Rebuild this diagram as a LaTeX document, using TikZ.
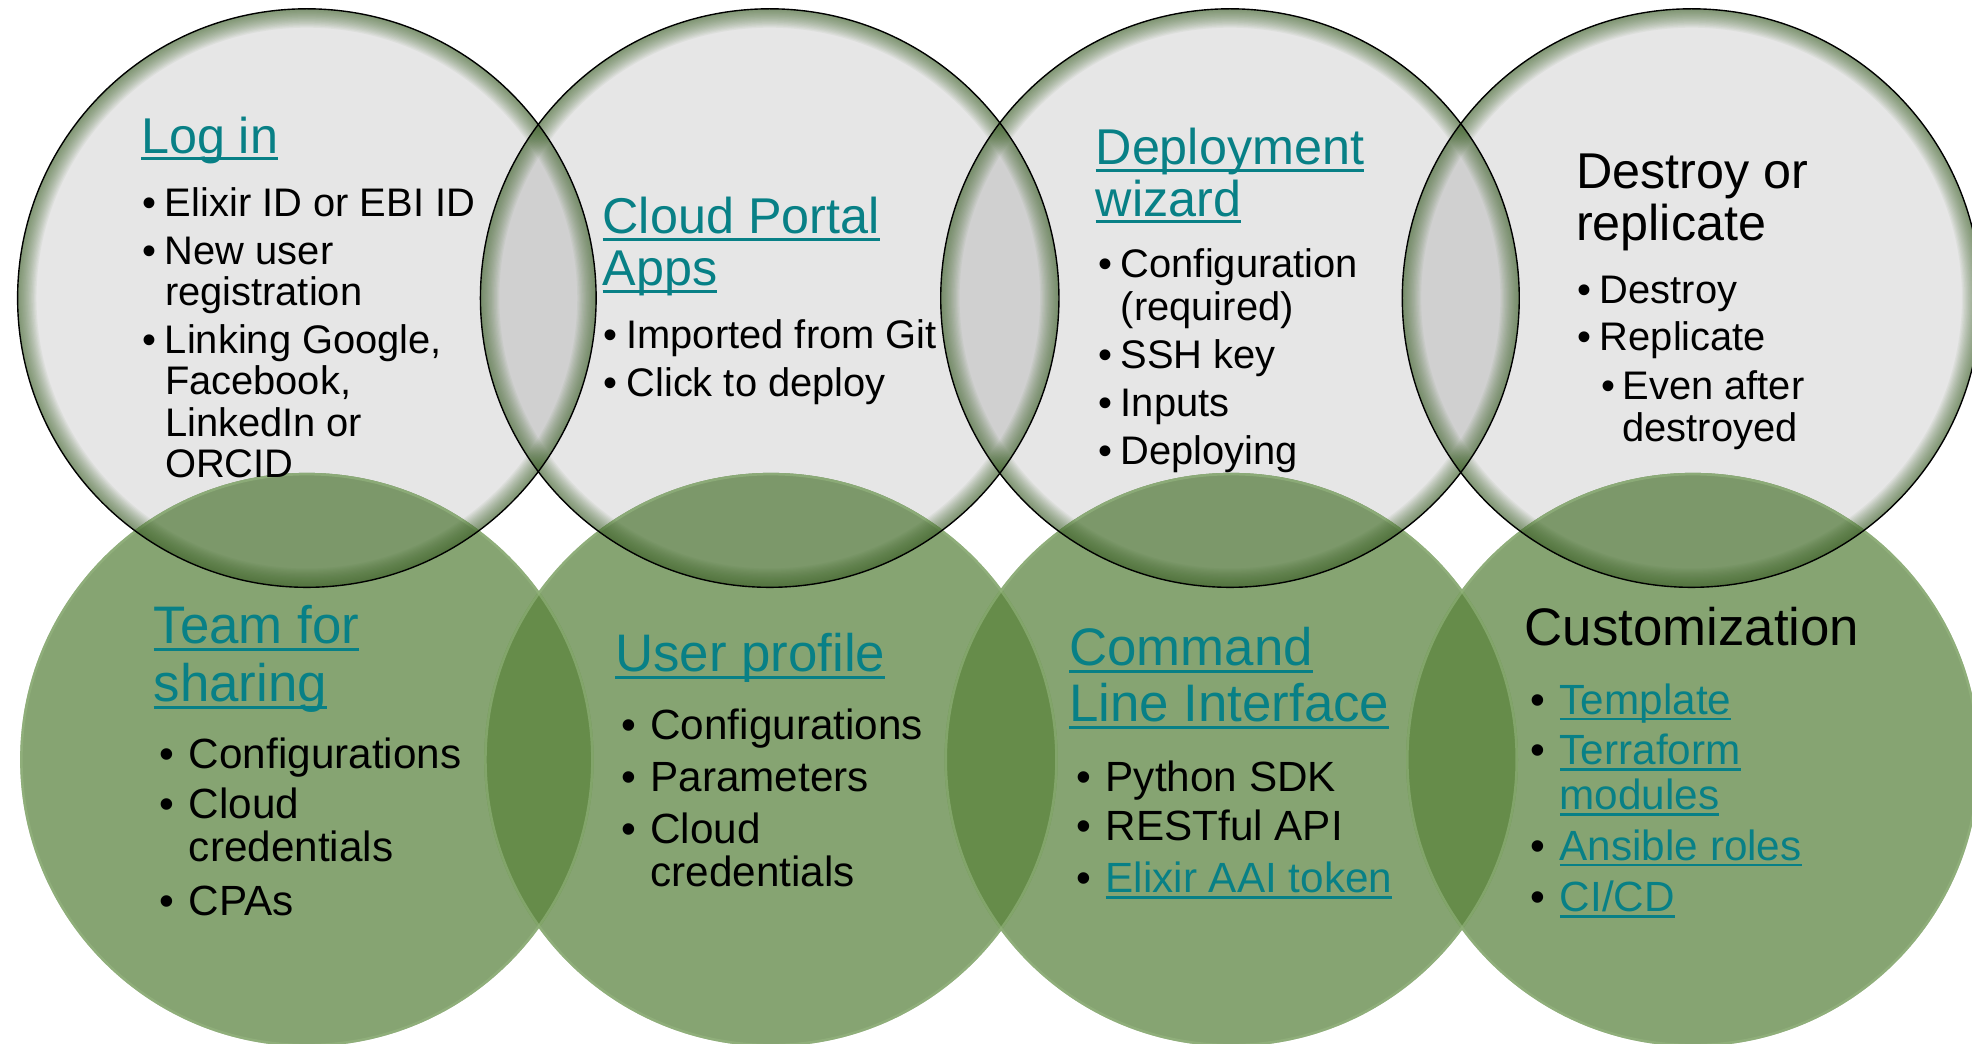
\documentclass[tikz,border=0pt]{standalone}
\usepackage{fontspec}
\setmainfont{Liberation Sans}
\definecolor{link}{RGB}{8,128,134}
\definecolor{topfill}{RGB}{230,230,230}
\definecolor{toplens}{RGB}{208,208,208}
\definecolor{botfill}{RGB}{134,164,114}
\definecolor{botlens}{RGB}{102,140,74}
\definecolor{overlapc}{RGB}{124,152,106}
\definecolor{glowc}{RGB}{62,100,40}
\definecolor{botedge}{RGB}{150,182,128}
\newcommand\lnk[1]{{\color{link}\setbox0\hbox{#1}\rlap{\rule[-0.14em]{\wd0}{0.06em}}\box0}}
\newcommand\bul{\makebox[18pt][l]{\textbullet}}
\newcommand\bbul{\makebox[23pt][l]{\textbullet}}
\begin{document}
\begin{tikzpicture}[x=1pt,y=-1pt,
  ttl/.style={anchor=base west, inner sep=0pt, font=\fontsize{40}{44}\selectfont},
  body/.style={anchor=base west, inner sep=0pt, font=\fontsize{31.7}{34}\selectfont},
  bttl/.style={anchor=base west, inner sep=0pt, font=\fontsize{42}{46}\selectfont},
  bbody/.style={anchor=base west, inner sep=0pt, font=\fontsize{33.6}{36}\selectfont}]
\useasboundingbox (0,0) rectangle (1568,830);
\coordinate (t1) at (244,237);
\coordinate (t2) at (612,237);
\coordinate (t3) at (978,237);
\coordinate (t4) at (1345,237);
\coordinate (b1) at (244,604);
\coordinate (b2) at (613,604);
\coordinate (b3) at (979,604);
\coordinate (b4) at (1346,604);
% top circles
\foreach \c in {t1,t2,t3,t4}{\fill[topfill] (\c) circle[radius=230];}
\foreach \a/\b in {t1/t2,t2/t3,t3/t4}{
  \begin{scope}\clip (\a) circle[radius=230]; \fill[toplens] (\b) circle[radius=230];\end{scope}}
% bottom circles
\foreach \c in {b1,b2,b3,b4}{\fill[botfill] (\c) circle[radius=228];}
\foreach \a/\b in {b1/b2,b2/b3,b3/b4}{
  \begin{scope}\clip (\a) circle[radius=228]; \fill[botlens] (\b) circle[radius=228];\end{scope}}
\foreach \a/\b in {t1/b1,t2/b2,t3/b3,t4/b4}{
  \begin{scope}\clip (\a) circle[radius=230]; \fill[overlapc] (\b) circle[radius=228];\end{scope}}
\foreach \c in {b1,b2,b3,b4}{\draw[botedge, line width=2pt, draw opacity=0.6] (\c) circle[radius=227];}
% glow on top circles
\foreach \c in {t1,t2,t3,t4}{
  \begin{scope}
    \clip (\c) circle[radius=230];
    \foreach \w in {2,4,...,30}{\draw[glowc, line width=\w pt, draw opacity=0.055] (\c) circle[radius=230];}
  \end{scope}}
\foreach \c in {t1,t2,t3,t4}{\draw[black, line width=1.1pt] (\c) circle[radius=230];}
% circle 1
\node[ttl] (c1t) at (112,122) {\lnk{Log in}};
\node[body] (c1a) at (113,172) {\bul Elixir ID or EBI ID};
\node[body] (c1b) at (113,210) {\bul New user};
\node[body] (c1c) at (131,243) {registration};
\node[body] (c1d) at (113,281) {\bul Linking Google,};
\node[body] (c1e) at (131,314) {Facebook,};
\node[body] (c1f) at (131,347) {LinkedIn or};
\node[body] (c1g) at (131,380) {ORCID};
% circle 2
\node[ttl] (c2t) at (479,186) {\lnk{Cloud Portal}};
\node[ttl] (c2u) at (479,227) {\lnk{Apps}};
\node[body] (c2a) at (480,277) {\bul Imported from Git};
\node[body] (c2b) at (480,315) {\bul Click to deploy};
% circle 3
\node[ttl] (c3t) at (871,131) {\lnk{Deployment}};
\node[ttl] (c3u) at (871,172) {\lnk{wizard}};
\node[body] (c3a) at (873,221) {\bul Configuration};
\node[body] (c3b) at (891,255) {(required)};
\node[body] (c3c) at (873,293) {\bul SSH key};
\node[body] (c3d) at (873,331) {\bul Inputs};
\node[body] (c3e) at (873,369) {\bul Deploying};
% circle 4
\node[ttl] (c4t) at (1253,150) {Destroy or};
\node[ttl] (c4u) at (1253,191) {replicate};
\node[body] (c4a) at (1254,241) {\bul Destroy};
\node[body] (c4b) at (1254,279) {\bul Replicate};
\node[body] (c4c) at (1273,318) {\makebox[17pt][l]{\textbullet}Even after};
\node[body] (c4d) at (1290,351) {destroyed};
% circle 5
\node[bttl] (c5t) at (122,512) {\lnk{Team for}};
\node[bttl] (c5u) at (122,558) {\lnk{sharing}};
\node[bbody] (c5a) at (127,611) {\bbul Configurations};
\node[bbody] (c5b) at (127,651) {\bbul Cloud};
\node[bbody] (c5c) at (150,685) {credentials};
\node[bbody] (c5d) at (127,728) {\bbul CPAs};
% circle 6
\node[bttl] (c6t) at (489,534) {\lnk{User profile}};
\node[bbody] (c6a) at (494,588) {\bbul Configurations};
\node[bbody] (c6b) at (494,629) {\bbul Parameters};
\node[bbody] (c6c) at (494,671) {\bbul Cloud};
\node[bbody] (c6d) at (517,705) {credentials};
% circle 7
\node[bttl] (c7t) at (850,529) {\lnk{Command}};
\node[bttl] (c7u) at (850,574) {\lnk{Line Interface}};
\node[bbody] (c7a) at (856,629) {\bbul Python SDK};
\node[bbody] (c7b) at (856,668) {\bbul RESTful API};
\node[bbody] (c7c) at (856,710) {\bbul\lnk{Elixir AAI token}};
% circle 8
\node[bttl] (c8t) at (1212,513) {Customization};
\node[bbody] (c8a) at (1217,568) {\bbul\lnk{Template}};
\node[bbody] (c8b) at (1217,608) {\bbul\lnk{Terraform}};
\node[bbody] (c8c) at (1240,644) {\lnk{modules}};
\node[bbody] (c8d) at (1217,684) {\bbul\lnk{Ansible roles}};
\node[bbody] (c8e) at (1217,725) {\bbul\lnk{CI/CD}};
\end{tikzpicture}
\end{document}
